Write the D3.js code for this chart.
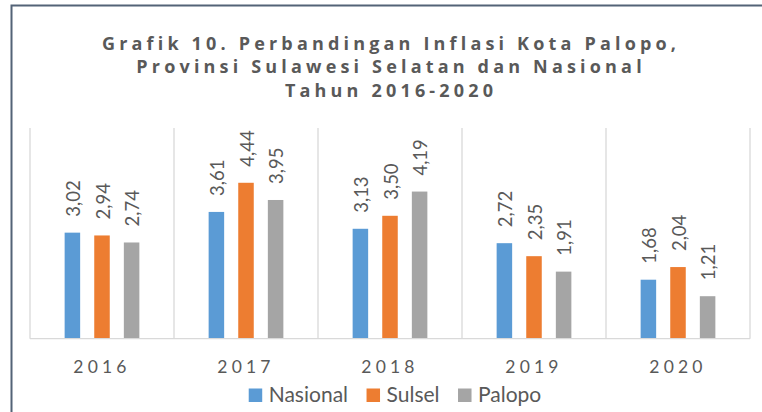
<!DOCTYPE html>
<html>
<head>
<meta charset="utf-8">
<script src="https://cdn.jsdelivr.net/npm/d3@7"></script>
<style>
  html, body { margin: 0; padding: 0; background: #fff; }
  svg { display: block; }
</style>
</head>
<body>
<svg id="chart" width="762" height="412"></svg>
<script>
// ---- data ----
const titleLines = [
  "Grafik 10. Perbandingan Inflasi Kota Palopo,",
  "Provinsi Sulawesi Selatan dan Nasional",
  "Tahun 2016-2020"
];
const years = ["2016", "2017", "2018", "2019", "2020"];
const seriesNames = ["Nasional", "Sulsel", "Palopo"];
const nasional = [3.02, 3.61, 3.13, 2.72, 1.68];
const sulsel   = [2.94, 4.44, 3.50, 2.35, 2.04];
const palopo   = [2.74, 3.95, 4.19, 1.91, 1.21];
const colors   = ["#5B9BD5", "#ED7D31", "#A5A5A5"];

const seriesValues = [nasional, sulsel, palopo];
const fmt = v => v.toFixed(2).replace(".", ",");

// ---- layout ----
const W = 762, H = 412;
const plot = { left: 30, right: 750, top: 128, bottom: 338.7 };
const textColor = "#595959";
const gridColor = "#D9D9D9";
const bodyFont = "Lato, 'Open Sans', 'Liberation Sans', sans-serif";
const titleFont = "'Open Sans', Lato, 'Liberation Sans', sans-serif";

const svg = d3.select("#chart");
svg.append("rect").attr("width", W).attr("height", H).attr("fill", "#fff");

// frame (cropped chart border)
svg.append("path")
  .attr("d", `M11.5,${H} L11.5,5.5 L${W},5.5`)
  .attr("fill", "none").attr("stroke", "#536377").attr("stroke-width", 2);

// title
const titleCenter = 389;
const titleTargetWidth = 574;
const tg = svg.append("g");
const t0 = tg.append("text")
  .style("font-family", titleFont)
  .attr("font-size", 18).attr("font-weight", "bold").text(titleLines[0]);
const natural = t0.node().getComputedTextLength();
const ls = (titleTargetWidth - natural) / (titleLines[0].length - 1);
t0.remove();
titleLines.forEach((line, i) => {
  const t = tg.append("text")
    .style("font-family", titleFont)
    .attr("font-size", 18).attr("font-weight", "bold")
    .attr("fill", textColor)
    .attr("letter-spacing", ls)
    .text(line);
  const w = t.node().getComputedTextLength() - ls;
  t.attr("x", titleCenter - w / 2).attr("y", 50 + i * 23.3);
});

// scales
const x0 = d3.scaleBand().domain(years).range([plot.left, plot.right]);
const x1 = d3.scaleBand().domain(seriesNames).range([0, x0.bandwidth()])
  .paddingInner(0.476).paddingOuter(1.17);
const y = d3.scaleLinear().domain([0, 6]).range([plot.bottom, plot.top]);

// vertical category separators
const seps = years.map(yr => x0(yr)).concat([plot.right]);
svg.append("g").selectAll("line").data(seps).join("line")
  .attr("x1", d => d).attr("x2", d => d)
  .attr("y1", plot.top).attr("y2", plot.bottom)
  .attr("stroke", gridColor).attr("stroke-width", 1.3);

// bars
const flat = [];
years.forEach((yr, i) => seriesNames.forEach((s, j) => flat.push({ yr, s, j, v: seriesValues[j][i] })));

svg.append("g").selectAll("rect").data(flat).join("rect")
  .attr("x", d => x0(d.yr) + x1(d.s))
  .attr("y", d => y(d.v))
  .attr("width", x1.bandwidth())
  .attr("height", d => y(0) - y(d.v))
  .attr("fill", d => colors[d.j]);

// x axis baseline
svg.append("line")
  .attr("x1", plot.left).attr("x2", plot.right)
  .attr("y1", plot.bottom).attr("y2", plot.bottom)
  .attr("stroke", gridColor).attr("stroke-width", 1.3);

// data labels (rotated)
svg.append("g").selectAll("text").data(flat).join("text")
  .attr("transform", d => `translate(${x0(d.yr) + x1(d.s) + x1.bandwidth() / 2 + 0.8},${y(d.v) - 16}) rotate(-90)`)
  .style("font-family", bodyFont)
  .attr("font-size", 18.5)
  .attr("fill", textColor)
  .attr("dominant-baseline", "central")
  .attr("text-anchor", "start")
  .text(d => fmt(d.v));

// x axis labels
const xAxis = d3.axisBottom(x0).tickSize(0).tickPadding(0);
const xg = svg.append("g").attr("transform", `translate(0,${plot.bottom})`).call(xAxis);
xg.select(".domain").remove();
xg.selectAll("text")
  .attr("y", 34)
  .attr("dy", 0)
  .style("font-family", bodyFont)
  .style("font-size", "17.5px")
  .attr("letter-spacing", 4.2)
  .attr("fill", textColor);

// legend
const legend = svg.append("g");
const legendItems = seriesNames.map((name, i) => {
  const g = legend.append("g");
  g.append("rect").attr("width", 13.5).attr("height", 13.5).attr("y", 388.5).attr("fill", colors[i]);
  const t = g.append("text").attr("x", 20).attr("y", 402.3)
    .style("font-family", bodyFont)
    .attr("font-size", 21).attr("fill", textColor).text(name);
  return { g, w: 20 + t.node().getComputedTextLength() };
});
const gap = 18.5;
const total = d3.sum(legendItems, d => d.w) + gap * (legendItems.length - 1);
let lx = 395 - total / 2;
legendItems.forEach(it => { it.g.attr("transform", `translate(${lx},0)`); lx += it.w + gap; });
</script>
</body>
</html>
